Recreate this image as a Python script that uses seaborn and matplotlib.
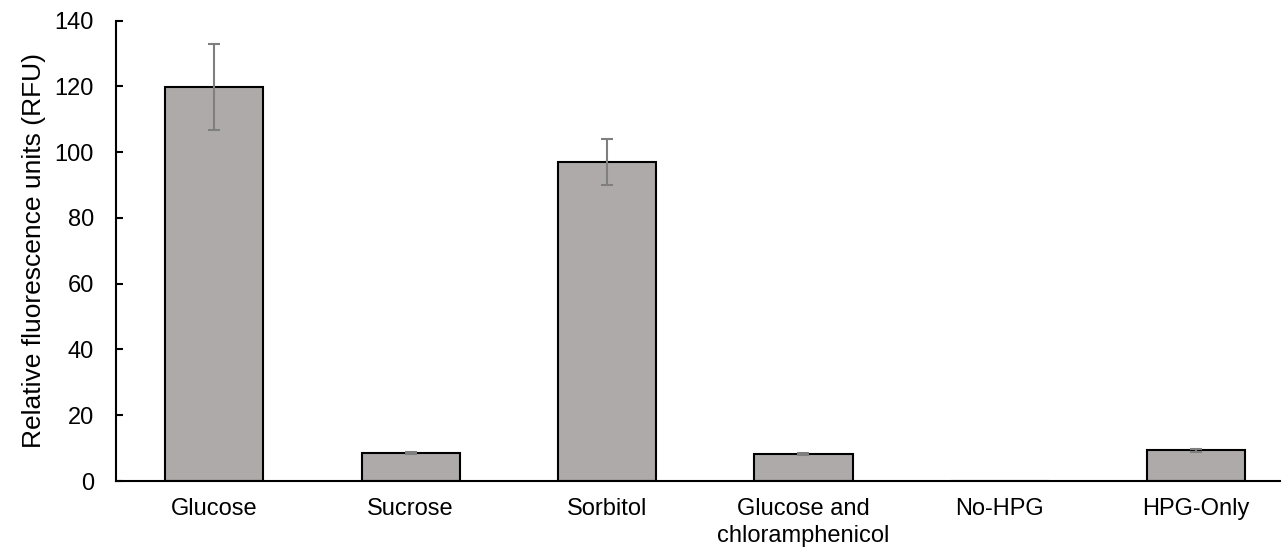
import matplotlib
matplotlib.use("Agg")
import matplotlib.pyplot as plt
import seaborn as sns
import pandas as pd

categories = ["Glucose", "Sucrose", "Sorbitol", "Glucose and\nchloramphenicol", "No-HPG", "HPG-Only"]
values = [119.7, 8.5, 97.0, 8.2, 0.0, 9.3]
errors = [13.1, 0.3, 7.0, 0.3, 0.0, 0.4]
y_ticks = [0, 20, 40, 60, 80, 100, 120, 140]

sns.set_style("white")
plt.rcParams['font.family'] = ['Liberation Sans', 'DejaVu Sans']

df = pd.DataFrame({"cat": categories, "val": values})

fig = plt.figure(figsize=(12.81, 5.54), dpi=100)
ax = fig.add_axes([116/1281, 73/554, 1 - 116/1281, (481-20.5)/554])

sns.barplot(data=df, x="cat", y="val", ax=ax, color="#AEAAAA", saturation=1,
            width=0.5, edgecolor="black", linewidth=1.5, errorbar=None)

idx = [i for i, e in enumerate(errors) if e > 0]
ax.errorbar(idx, [values[i] for i in idx], yerr=[errors[i] for i in idx], fmt="none",
            ecolor="#7F7F7F", elinewidth=1.5, capsize=4.3, capthick=1.5, zorder=5)

ax.set_ylim(0, 140)
ax.set_yticks(y_ticks)
ax.set_xlim(-0.5, -0.5 + (1281 - 116) / 196.4)
ax.set_xlabel("")
ax.set_ylabel("Relative fluorescence units (RFU)", fontsize=19, color="black", labelpad=6)

for s in ["top", "right"]:
    ax.spines[s].set_visible(False)
for s in ["left", "bottom"]:
    ax.spines[s].set_color("black")
    ax.spines[s].set_linewidth(1.5)

ax.tick_params(axis="y", direction="in", length=5, width=1.5, color="black",
               labelsize=17, labelcolor="black", pad=16, left=True)
ax.tick_params(axis="x", length=0, labelsize=17, labelcolor="black", pad=12)
for lbl in ax.get_xticklabels():
    lbl.set_linespacing(1.3)

fig.savefig("out.png", dpi=100)
